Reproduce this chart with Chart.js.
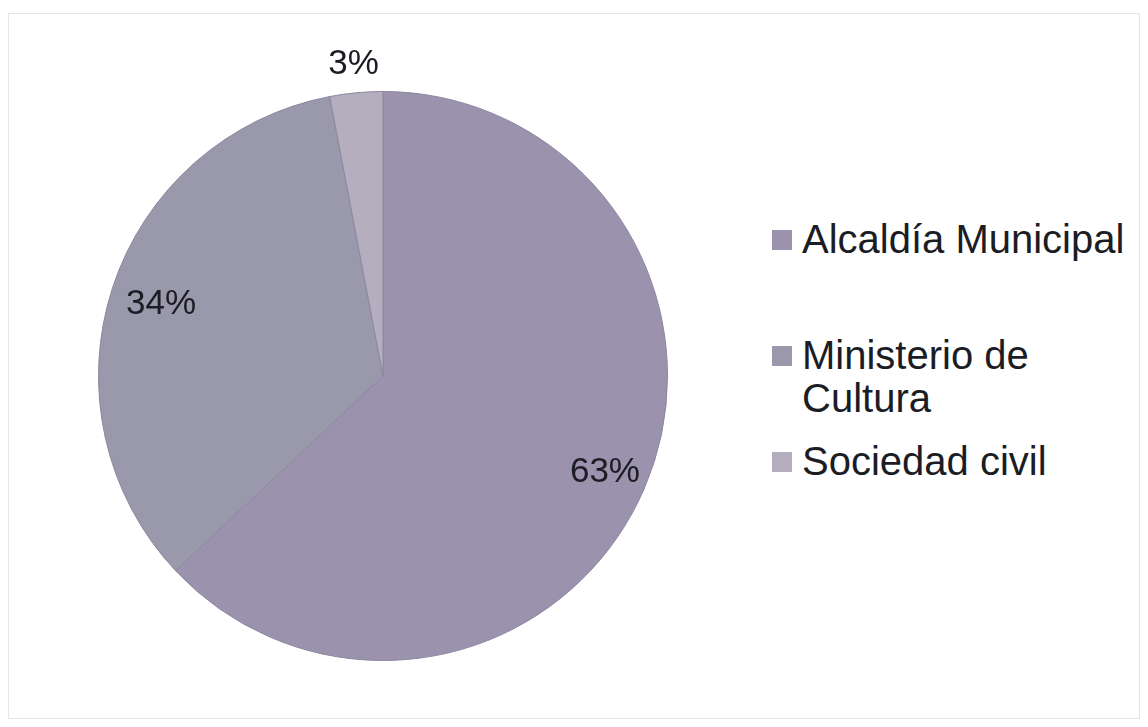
<!DOCTYPE html>
<html>
<head>
<meta charset="utf-8">
<script src="https://cdn.jsdelivr.net/npm/chart.js@4.4.1/dist/chart.umd.min.js"></script>
<style>
    html, body { margin: 0; padding: 0; background: #fff; }
    #frame { position: absolute; left: 8px; top: 13px; width: 1132px; height: 706px; border: 1px solid #e4e4e4; box-sizing: border-box; }
    #wrap { position: absolute; left: 0; top: 0; width: 766px; height: 727px; }
    #legend { position: absolute; left: 772px; top: 0; font-family: "Liberation Sans", Arial, sans-serif; font-size: 40px; color: #1c1c24; }
    .item { position: absolute; left: 0; white-space: nowrap; line-height: 43px; }
    .box { display: inline-block; width: 20px; height: 20px; margin-right: 10px; vertical-align: 3px; }
    .indent { display: inline-block; width: 30px; }
</style>
</head>
<body>
<div id="frame"></div>
<div id="wrap"><canvas id="pie"></canvas></div>
<div id="legend"></div>
<script>
const categories = ['Alcaldía Municipal', 'Ministerio de Cultura', 'Sociedad civil'];
const legendLines = [['Alcaldía Municipal'], ['Ministerio de', 'Cultura'], ['Sociedad civil']];
const shares = [63, 34, 3];
const sliceColors = ['#9b93ad', '#9a98ab', '#b4aebf'];

// label distance from centre, as a fraction of the radius (Excel "best fit" look)
const labelRadius = [0.85, 0.82, 1.10];

const pctLabels = {
    id: 'pctLabels',
    afterDatasetsDraw(chart) {
        const ctx = chart.ctx;
        const meta = chart.getDatasetMeta(0);
        ctx.save();
        ctx.font = '35px "Liberation Sans", Arial, sans-serif';
        ctx.fillStyle = '#1c1c24';
        ctx.textAlign = 'center';
        ctx.textBaseline = 'middle';
        meta.data.forEach((arc, i) => {
            const mid = (arc.startAngle + arc.endAngle) / 2;
            const r = arc.outerRadius * labelRadius[i];
            ctx.fillText(shares[i] + '%', arc.x + Math.cos(mid) * r, arc.y + Math.sin(mid) * r);
        });
        ctx.restore();
    }
};

new Chart(document.getElementById('pie'), {
    type: 'pie',
    data: {
        labels: categories,
        datasets: [{
            data: shares,
            backgroundColor: sliceColors,
            borderColor: '#8c87a0',
            borderWidth: 1
        }]
    },
    options: {
        responsive: true,
        maintainAspectRatio: false,
        animation: false,
        layout: { padding: { left: 98, right: 98, top: 91, bottom: 66 } },
        plugins: { legend: { display: false }, tooltip: { enabled: false } }
    },
    plugins: [pctLabels]
});

// legend on the right, wrapped the same way as the original
const legendTops = [218, 334, 440];
document.getElementById('legend').innerHTML = legendLines.map((lines, i) =>
    `<div class="item" style="top:${legendTops[i]}px"><span class="box" style="background:${sliceColors[i]}"></span>${lines.join('<br><span class="indent"></span>')}</div>`
).join('');
</script>
</body>
</html>
